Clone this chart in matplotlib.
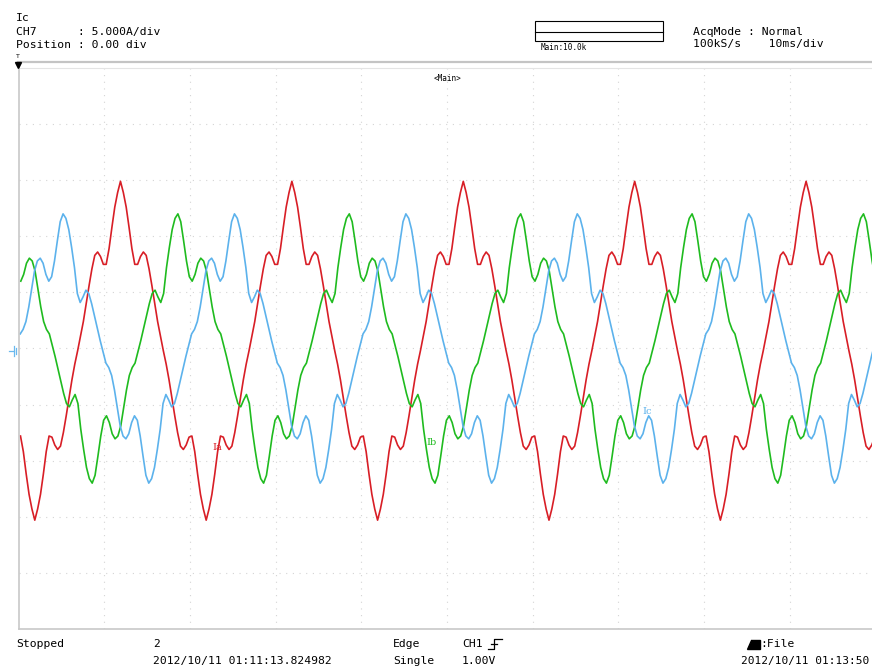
import numpy as np
import matplotlib
matplotlib.use('Agg')
import matplotlib.pyplot as plt
from matplotlib.lines import Line2D
from matplotlib.patches import Rectangle, Polygon

# one cycle of each phase current (A), sampled every 1/3 ms, peak at index 30
ia_cycle = [-15.3, -14.3, -13.0, -11.2, -9.2, -7.8, -7.9, -8.6, -9.0, -8.7,
            -7.5, -6.0, -4.4, -2.8, -1.4, -0.2, 1.1, 2.4, 4.0, 5.6,
            7.1, 8.3, 8.6, 8.2, 7.5, 7.5, 8.9, 10.8, 12.6, 13.9,
            14.9, 13.9, 12.6, 10.8, 8.9, 7.5, 7.5, 8.2, 8.6, 8.3,
            7.1, 5.6, 4.0, 2.4, 1.1, -0.2, -1.4, -2.8, -4.4, -6.0,
            -7.5, -8.7, -9.0, -8.6, -7.9, -7.8, -9.2, -11.2, -13.0, -14.3]
ib_cycle = [-12.0, -11.3, -9.6, -7.8, -6.4, -6.0, -6.6, -7.6, -8.05, -7.8,
            -6.9, -5.3, -3.7, -2.4, -1.7, -1.3, -0.3, 0.7, 1.8, 2.9,
            4.0, 4.9, 5.2, 4.6, 4.1, 4.9, 7.2, 9.0, 10.6, 11.6,
            12.0, 11.3, 9.6, 7.8, 6.4, 6.0, 6.6, 7.6, 8.05, 7.8,
            6.9, 5.3, 3.7, 2.4, 1.7, 1.3, 0.3, -0.7, -1.8, -2.9,
            -4.0, -4.9, -5.2, -4.6, -4.1, -4.9, -7.2, -9.0, -10.6, -11.6]
ic_cycle = [-12.0, -11.6, -10.6, -9.0, -7.2, -4.9, -4.1, -4.6, -5.2, -4.9,
            -4.0, -2.9, -1.8, -0.7, 0.3, 1.3, 1.7, 2.4, 3.7, 5.3,
            6.9, 7.8, 8.05, 7.6, 6.6, 6.0, 6.4, 7.8, 9.6, 11.3,
            12.0, 11.6, 10.6, 9.0, 7.2, 4.9, 4.1, 4.6, 5.2, 4.9,
            4.0, 2.9, 1.8, 0.7, -0.3, -1.3, -1.7, -2.4, -3.7, -5.3,
            -6.9, -7.8, -8.05, -7.6, -6.6, -6.0, -6.4, -7.8, -9.6, -11.3]

# time of first positive peak of each phase in the record (ms)
ia_peak = 11.9
ib_peak = 18.6
ic_peak = 5.2
period = 20.0
step = 1 / 3

W, H = 872, 668


def fx(x):
    return x / W


def fy(y):
    return 1 - y / H


def trace(cycle, peak):
    offs = (np.arange(len(cycle)) - 30) * step
    t = np.concatenate([peak + offs + period * k for k in range(-1, 6)])
    v = np.tile(cycle, 7)
    keep = (t >= 0) & (t <= 100)
    return t[keep], v[keep]


fig = plt.figure(figsize=(W / 100, H / 100), dpi=100)
ax = fig.add_axes([fx(18.5), fy(629), 857 / W, 561 / H])
ax.set_xlim(0, 100)
ax.set_ylim(-25, 25)
ax.set_xticks([])
ax.set_yticks([])
for s in ['left', 'bottom']:
    ax.spines[s].set_color('#c8c8c8')
    ax.spines[s].set_linewidth(1.2)
ax.spines['top'].set_color('#e4e4e4')
ax.spines['right'].set_visible(False)

for x in range(10, 100, 10):
    ax.axvline(x, color='#d4d4d4', lw=0.8, ls=(0, (1, 5)))
for y in range(-20, 25, 5):
    ax.axhline(y, color='#d4d4d4', lw=0.8, ls=(0, (1, 5)))

for cyc, pk, col in [(ia_cycle, ia_peak, '#d81e26'),
                     (ib_cycle, ib_peak, '#1fbb1f'),
                     (ic_cycle, ic_peak, '#5cb2ec')]:
    t, v = trace(cyc, pk)
    ax.plot(t, v, color=col, lw=1.2, solid_joinstyle='round')

ax.text(23.2, -8.8, 'Ia', color='#d81e26', fontsize=7, family='DejaVu Serif',
        ha='center', va='center')
ax.text(48.2, -8.4, 'Ib', color='#1fbb1f', fontsize=7, family='DejaVu Serif',
        ha='center', va='center')
ax.text(73.3, -5.6, 'Ic', color='#5cb2ec', fontsize=7, family='DejaVu Serif',
        ha='center', va='center')
ax.text(50, 24.1, '<Main>', fontsize=5.5, family='DejaVu Sans Mono',
        ha='center', va='center')

mono = dict(family='DejaVu Sans Mono', fontsize=8.2, va='center', ha='left')

# header
fig.text(fx(16), fy(18), 'Ic', **mono)
fig.text(fx(16), fy(32), 'CH7      : 5.000A/div', **mono)
fig.text(fx(16), fy(45), 'Position : 0.00 div', **mono)
fig.text(fx(693), fy(32), 'AcqMode : Normal', **mono)
fig.text(fx(693), fy(44), '100kS/s    10ms/div', **mono)
fig.patches.append(Rectangle((fx(535), fy(41)), fx(128), 20 / H, fill=False,
                             ec='black', lw=0.8, transform=fig.transFigure))
fig.lines.append(Line2D([fx(535), fx(663)], [fy(31.5), fy(31.5)], color='black',
                        lw=0.8, transform=fig.transFigure))
fig.text(fx(541), fy(47), 'Main:10.0k', family='DejaVu Sans Mono', fontsize=5.5,
         va='center', ha='left')
fig.lines.append(Line2D([fx(18), 1], [fy(62), fy(62)], color='#c4c4c4', lw=1.6,
                        transform=fig.transFigure))

# trigger marker and ground marker
fig.text(fx(18), fy(57), 'T', fontsize=4.5, ha='center', va='center')
fig.lines.append(Line2D([fx(18)], [fy(65)], marker='v', ms=5, color='black',
                        transform=fig.transFigure))
gnd = '#6ab8ee'
fig.lines.append(Line2D([fx(9), fx(14)], [fy(351), fy(351)], color=gnd, lw=0.9,
                        transform=fig.transFigure))
fig.lines.append(Line2D([fx(14), fx(14)], [fy(346), fy(356)], color=gnd, lw=0.9,
                        transform=fig.transFigure))
fig.lines.append(Line2D([fx(16), fx(16)], [fy(348), fy(354)], color=gnd, lw=0.9,
                        transform=fig.transFigure))

# footer
fig.text(fx(16), fy(644), 'Stopped', **mono)
fig.text(fx(153), fy(644), '2', **mono)
fig.text(fx(153), fy(661), '2012/10/11 01:11:13.824982', **mono)
fig.text(fx(393), fy(644), 'Edge', **mono)
fig.text(fx(393), fy(661), 'Single', **mono)
fig.text(fx(462), fy(644), 'CH1', **mono)
fig.text(fx(462), fy(661), '1.00V', **mono)
fig.lines.append(Line2D([fx(488), fx(494), fx(494), fx(502)],
                        [fy(649), fy(649), fy(639), fy(639)], color='black',
                        lw=0.9, transform=fig.transFigure))
fig.lines.append(Line2D([fx(491), fx(497)], [fy(644), fy(644)], color='black',
                        lw=0.9, transform=fig.transFigure))
fig.patches.append(Polygon([(fx(747), fy(649)), (fx(760), fy(649)), (fx(760), fy(640)),
                            (fx(751), fy(640))], closed=True, color='black',
                           transform=fig.transFigure))
fig.text(fx(760), fy(644), ':File', **mono)
fig.text(fx(741), fy(661), '2012/10/11 01:13:50', family='DejaVu Sans Mono',
         fontsize=8.0, va='center', ha='left')

fig.savefig('out.png', dpi=100)
